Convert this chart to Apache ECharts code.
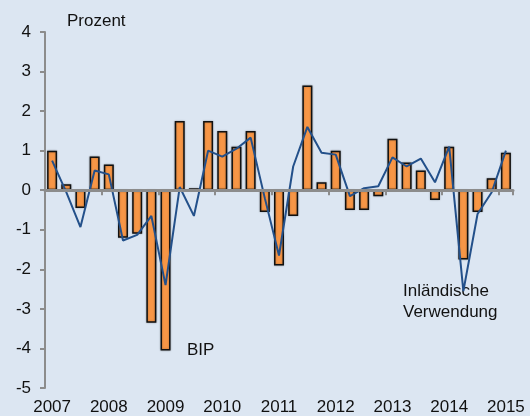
<!DOCTYPE html>
<html>
<head>
<meta charset="utf-8">
<script src="https://cdn.jsdelivr.net/npm/echarts@6/dist/echarts.min.js"></script>
<style>
  html, body { margin: 0; padding: 0; background: #dce6f2; }
  #chart { width: 530px; height: 416px; }
</style>
</head>
<body>
<div id="chart"></div>
<script>
// Quartale 2007Q1 - 2015Q1
var quarters = [
  "2007Q1", "2007Q2", "2007Q3", "2007Q4",
  "2008Q1", "2008Q2", "2008Q3", "2008Q4",
  "2009Q1", "2009Q2", "2009Q3", "2009Q4",
  "2010Q1", "2010Q2", "2010Q3", "2010Q4",
  "2011Q1", "2011Q2", "2011Q3", "2011Q4",
  "2012Q1", "2012Q2", "2012Q3", "2012Q4",
  "2013Q1", "2013Q2", "2013Q3", "2013Q4",
  "2014Q1", "2014Q2", "2014Q3", "2014Q4",
  "2015Q1"
];
// BIP (Balken)
var bip = [
  1.0, 0.15, -0.45, 0.85,
  0.65, -1.2, -1.1, -3.35,
  -4.05, 1.75, 0.05, 1.75,
  1.5, 1.1, 1.5, -0.55,
  -1.9, -0.65, 2.65, 0.2,
  1.0, -0.5, -0.5, -0.15,
  1.3, 0.7, 0.5, -0.25,
  1.1, -1.75, -0.55, 0.3,
  0.95
];
// Inländische Verwendung (Linie)
var inland = [
  0.75, -0.05, -0.93, 0.5,
  0.4, -1.27, -1.13, -0.65,
  -2.4, 0.08, -0.65, 1.0,
  0.85, 1.05, 1.33, -0.2,
  -1.65, 0.6, 1.6, 0.95,
  0.9, -0.15, 0.05, 0.1,
  0.83, 0.6, 0.8, 0.2,
  1.1, -2.55, -0.6, -0.05,
  1.0
];
var yMin = -5, yMax = 4, yStep = 1;

var font = "'Liberation Sans', Arial, sans-serif";
var myChart = echarts.init(document.getElementById("chart"));

function isYearStart(index) {
  return index % 4 === 0;
}

var option = {
  backgroundColor: "#dce6f2",
  animation: false,
  grid: { left: 45, right: 17, top: 32, bottom: 26 },
  xAxis: [
    {
      type: "category",
      data: quarters,
      boundaryGap: true,
      z: 10,
      axisLine: { onZero: true, lineStyle: { color: "#8c8c8c", width: 3 } },
      axisTick: { show: true, interval: isYearStart, length: 5, lineStyle: { color: "#8c8c8c", width: 2 } },
      axisLabel: { show: false },
      splitLine: { show: false }
    },
    {
      type: "category",
      data: quarters,
      position: "bottom",
      boundaryGap: true,
      axisLine: { show: false, onZero: false },
      axisTick: { show: false },
      splitLine: { show: false },
      axisLabel: {
        interval: isYearStart,
        margin: 11,
        color: "#111",
        fontFamily: font,
        fontSize: 17,
        formatter: function (v) { return v.slice(0, 4); }
      }
    }
  ],
  yAxis: {
    type: "value",
    min: yMin,
    max: yMax,
    interval: yStep,
    axisLine: { show: true, lineStyle: { color: "#8c8c8c", width: 2 } },
    axisTick: { show: true, length: 5, lineStyle: { color: "#8c8c8c", width: 2 } },
    splitLine: { show: false },
    axisLabel: { margin: 14, color: "#111", fontFamily: font, fontSize: 17 }
  },
  graphic: [
    { type: "text", left: 67, top: 13, style: { text: "Prozent", font: "17px " + font, fill: "#111" } },
    { type: "text", left: 187, top: 342, style: { text: "BIP", font: "17px " + font, fill: "#111" } },
    { type: "text", left: 403, top: 283, style: { text: "Inländische", font: "17px " + font, fill: "#111" } },
    { type: "text", left: 403, top: 304, style: { text: "Verwendung", font: "17px " + font, fill: "#111" } }
  ],
  series: [
    {
      name: "BIP",
      type: "bar",
      data: bip,
      barWidth: 10,
      itemStyle: {
        color: "#f79646",
        borderColor: "#111",
        borderWidth: 1.5,
        shadowColor: "rgba(0,0,0,0.3)",
        shadowBlur: 2
      }
    },
    {
      name: "Inländische Verwendung",
      type: "line",
      data: inland,
      showSymbol: false,
      symbol: "none",
      z: 5,
      lineStyle: { color: "#23508a", width: 2 }
    }
  ]
};
myChart.setOption(option);
</script>
</body>
</html>
